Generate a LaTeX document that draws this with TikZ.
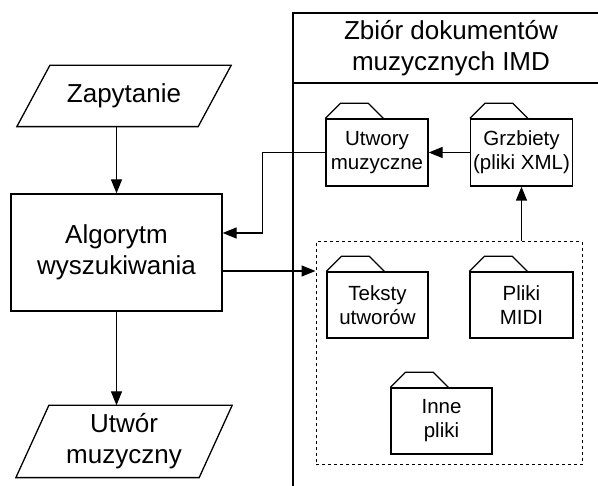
\documentclass[tikz,border=0pt]{standalone}
\usepackage{fontspec}
\setmainfont{Liberation Sans}
\usetikzlibrary{arrows.meta,calc}
\begin{document}
\begin{tikzpicture}[x=1pt,y=-1pt,
  line width=1.3pt,
  big/.style={font=\fontsize{26}{31}\selectfont, align=center},
  small/.style={font=\fontsize{20.5}{24}\selectfont, align=center},
  box/.style={draw, rectangle, inner sep=0pt},
  folder/.style={box, small, minimum width=102pt, minimum height=67pt},
  para/.style={rectangle, inner sep=0pt, big},
  arr/.style={-{Triangle[length=14pt,width=11pt]}}
]
\useasboundingbox (0,0) rectangle (598,486);
% pool
\draw (293,486) coordinate (pbl) -- (293,13) coordinate (ptl) -- (598,13) coordinate (ptr);
\draw (293,83) coordinate (phl) -- (598,83) coordinate (phr);
\node[big] (hdr) at (451,48) {Zbiór dokumentów\\muzycznych IMD};

% left column
\node[para, minimum width=180pt, minimum height=60pt] (zap) at (124,96) {Zapytanie};
\draw ([xshift=16.5pt]zap.north west) -- ([xshift=16.5pt]zap.north east)
      -- ([xshift=-16.5pt]zap.south east) -- ([xshift=-16.5pt]zap.south west) -- cycle;
\node[box, big, minimum width=211pt, minimum height=117pt] (alg) at (116.5,252.5) {Algorytm\\wyszukiwania};
\node[para, minimum width=182pt, minimum height=71pt] (out) at (124,441.5) {Utwór\\muzyczny};
\draw ([xshift=16.5pt]out.north west) -- ([xshift=16.5pt]out.north east)
      -- ([xshift=-16.5pt]out.south east) -- ([xshift=-16.5pt]out.south west) -- cycle;

% folders
\node[folder] (utw) at (377,152.5) {Utwory\\muzyczne};
\node[folder] (grz) at (521.5,152.5) {Grzbiety\\(pliki XML)};
\node[draw, dashed, line width=1pt, minimum width=266pt, minimum height=223pt, inner sep=0pt] (dash) at (449,353.5) {};
\node[folder, minimum width=101pt, minimum height=66pt] (tek) at (377.5,305) {Teksty\\utworów};
\node[folder, minimum width=103pt, minimum height=66pt] (midi) at (521.5,305) {Pliki\\MIDI};
\node[folder, minimum width=101pt, minimum height=66pt] (inne) at (441.5,421) {Inne\\pliki};
\foreach \f in {utw,grz,tek,midi,inne}{
  \draw (\f.north west) -- ++(15,-15) -- ++(28,0) -- ++(15,15);
}

% connectors
\draw[arr] (zap.south -| alg.north) -- (alg.north);
\draw[arr] (alg.south) -- (alg.south |- out.north);
\draw[arr] (grz.west) -- (utw.east);
\draw[arr] (grz.south |- dash.north) -- (grz.south);
\draw[arr] (utw.west) -- ++(-63,0) |- ([yshift=19.5pt]alg.east);
\draw[arr] ([yshift=-18.5pt]alg.east) -- ([yshift=-18.5pt]alg.east -| dash.west);
\end{tikzpicture}
\end{document}
